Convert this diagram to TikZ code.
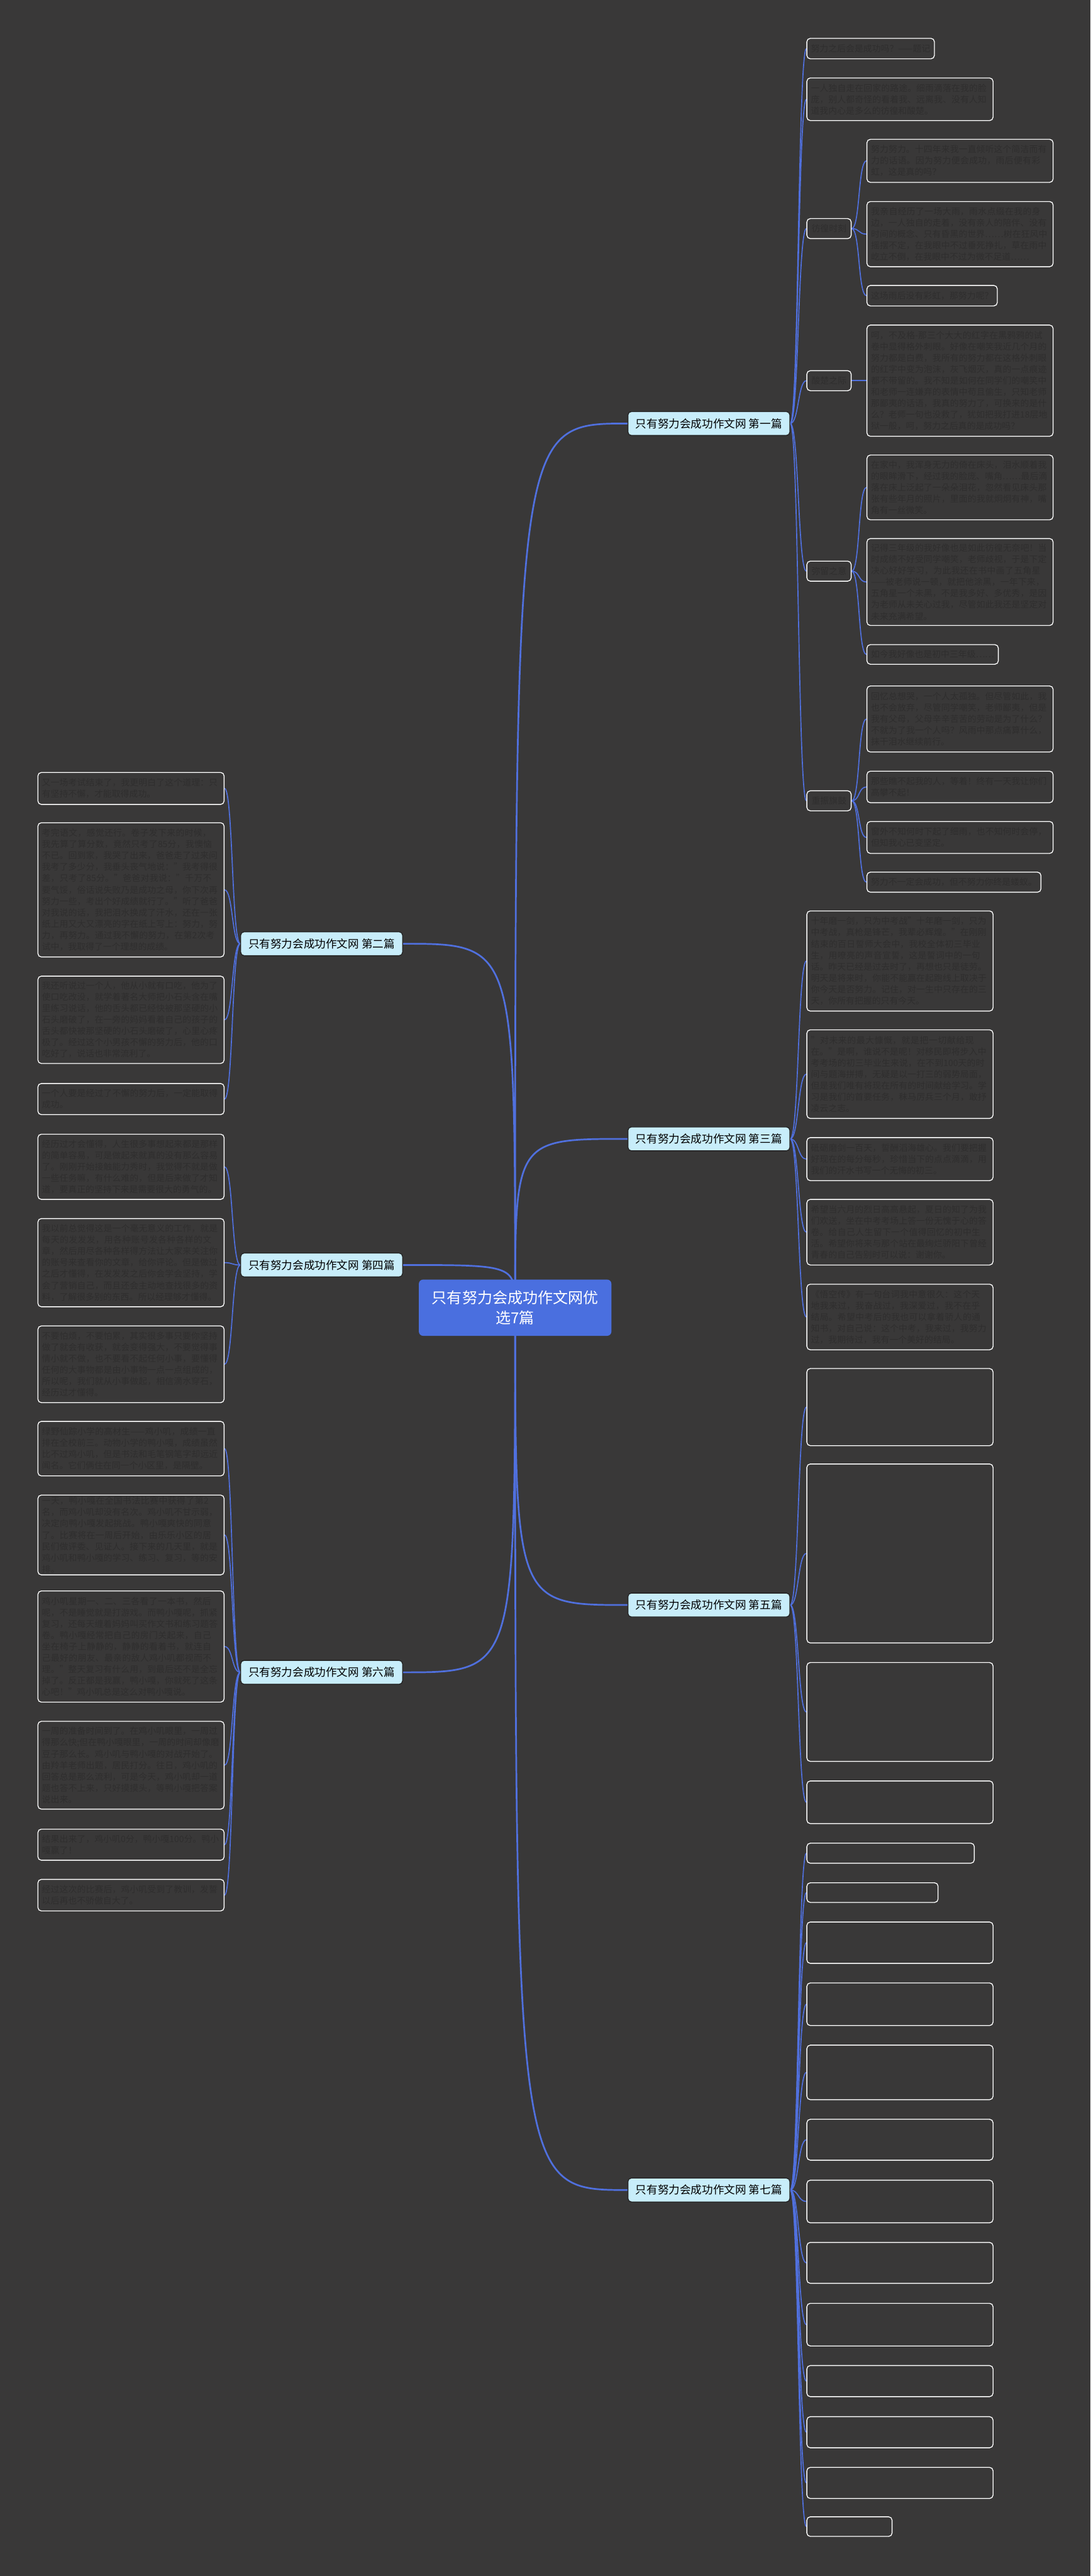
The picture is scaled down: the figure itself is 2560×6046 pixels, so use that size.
\documentclass[tikz,border=0pt]{standalone}
\usepackage{fontspec}
\setmainfont{Noto Sans CJK SC}
\XeTeXlinebreaklocale "zh"
\XeTeXlinebreakskip=0pt plus 1pt
\usepackage{xcolor}
\definecolor{paper}{RGB}{57,56,56}
\definecolor{leafink}{RGB}{47,46,46}
\definecolor{linkblue}{RGB}{80,112,222}
\definecolor{rootblue}{RGB}{74,111,223}
\definecolor{topicfill}{RGB}{200,237,250}
\definecolor{topicline}{RGB}{36,36,36}
\newcommand{\leaffont}{\fontsize{20.5}{26.7}\selectfont}
\newcommand{\topicfont}{\fontsize{26}{30}\selectfont}
\newcommand{\rootfont}{\fontsize{35.5}{46.7}\selectfont}
\pgfdeclarelayer{sheet}
\pgfdeclarelayer{links}
\pgfsetlayers{sheet,links,main}

\begin{document}
\begin{tikzpicture}[x=1pt, y=-1pt,
  box/.style={draw=white, line width=2pt, rounded corners=8pt, fill=paper, text=leafink,
    font=\leaffont, anchor=north west, inner xsep=9.5pt, inner ysep=4pt},
  leaf/.style={box, align=left, text width=418pt},
  subtopic/.style={box, minimum width=104pt, minimum height=47pt},
  topic/.style={draw=topicline, line width=2pt, rounded corners=8pt, fill=topicfill,
    font=\topicfont, anchor=north west, minimum width=380pt, minimum height=56pt, inner xsep=12pt},
  root/.style={fill=rootblue, rounded corners=10pt, text=white, font=\rootfont, align=center,
    anchor=north west, minimum width=452pt, minimum height=132pt},
  trunk/.style={draw=linkblue, line width=4pt},
  twig/.style={draw=linkblue, line width=2.5pt}]
\useasboundingbox (0,0) rectangle (2560,6046);
\begin{pgfonlayer}{sheet}
  \fill[paper] (0,0) rectangle (2560,6046);
\end{pgfonlayer}

\node[root] (root) at (983,3003) {只有努力会成功作文网优\\选7篇};

% 第一篇
\node[topic] (b1) at (1473,965) {只有努力会成功作文网 第一篇};
\node[box, minimum height=48pt] (l1a) at (1893,89) {努力之后会是成功吗？——题记};
\node[leaf, minimum height=100pt] (l1b) at (1893,182) {一人独自走在回家的路途。细雨滴落在我的脸庞，别人都奇怪的看着我、远离我、没有人知道我内心是多么的彷徨和酸楚。};
\node[subtopic] (s11) at (1893,512) {彷徨时刻};
\node[leaf, minimum height=101pt] (c111) at (2034,326) {努力努力。十四年来我一直倾听这个简洁而有力的话语。因为努力便会成功，雨后便有彩虹，这是真的吗？};
\node[leaf, minimum height=153pt] (c112) at (2034,472) {我亲自经历了一场大雨，雨水点缀在我的身边，一人独自的走着，没有亲人的陪伴、没有时间的概念、只有昏黑的世界……树在狂风中摇摆不定，在我眼中不过垂死挣扎，草在雨中屹立不倒，在我眼中不过为微不足道……};
\node[box, minimum height=48pt] (c113) at (2034,669) {这场雨后没有彩虹，那努力呢？};
\node[subtopic] (s12) at (1893,869) {酸楚之际};
\node[leaf, minimum height=261pt] (c121) at (2034,762) {呵，不及格-那三个大大的红字在黑鸦鸦的试卷中显得格外刺眼。好像在嘲笑我近几个月的努力都是白费，我所有的努力都在这格外刺眼的红字中变为泡沫，灰飞烟灭，真的一点痕迹都不带留的。我不知是如何在同学们的嘲笑中和老师一连嫌弃的表情中苟且偷生，只知老师那鄙夷的话语，我真的努力了，可换来的是什么？老师一句也没救了，犹如把我打进18层地狱一般，呵，努力之后真的是成功吗？};
\node[subtopic] (s13) at (1893,1316) {弥留之意};
\node[leaf, minimum height=152pt] (c131) at (2034,1067) {在家中，我浑身无力的倚在床头，泪水顺着我的眼眸滑下，经过我的脸庞、嘴角……最后滴落在床上泛起了一朵朵泪花，忽然看见床头那张有些年月的照片，里面的我就炯炯有神，嘴角有一丝微笑。};
\node[leaf, minimum height=204pt] (c132) at (2034,1263) {记得三年级的我好像也是如此彷徨无奈吧！当时成绩不好受同学嘲笑，老师歧视，于是下定决心好好学习，为此我还在书中画了五角星——被老师说一顿，就把他涂黑，一年下来，五角星一个未黑，不是我多好、多优秀，是因为老师从未关心过我，尽管如此我还是坚定对未来充满希望。};
\node[box, minimum height=46pt] (c133) at (2034,1512) {如今我好像也是初中三年级……};
\node[subtopic] (s14) at (1893,1855) {重振旗鼓};
\node[leaf, minimum height=155pt] (c141) at (2034,1609) {回忆总想哭，一个人太孤独。但尽管如此，我也不会放弃，尽管同学嘲笑，老师鄙夷，但是我有父母，父母辛辛苦苦的劳动是为了什么？不就为了我一个人吗？风雨中那点痛算什么，抹干泪水继续前行。};
\node[leaf, minimum height=74pt] (c142) at (2034,1809) {那些瞧不起我的人，等着！终有一天我让你们高攀不起！};
\node[leaf, minimum height=75pt] (c143) at (2034,1927) {窗外不知何时下起了细雨，也不知何时会停，但知我心已变坚定。};
\node[box, minimum height=47pt] (c144) at (2034,2046) {努力不一定会成功，但不努力你终是蝼蚁。};

% 第二篇
\node[topic] (b2) at (564,2186) {只有努力会成功作文网 第二篇};
\node[leaf, minimum height=75pt] (l21) at (88,1812) {又一场考试结束了，我更明白了这个道理：只有坚持不懈，才能取得成功。};
\node[leaf, minimum height=315pt] (l22) at (88,1930) {考完语文，感觉还行。卷子发下来的时候，我先算了算分数，竟然只考了85分，我懊恼不已。回到家，我哭了出来，爸爸走了过来问我考了多少分，我垂头丧气地说："我考得很差，只考了85分。"爸爸对我说："千万不要气馁，俗话说失败乃是成功之母，你下次再努力一些，考出个好成绩就行了。"听了爸爸对我说的话，我把泪水换成了汗水，还在一张纸上用又大又漂亮的字在纸上写上：努力，努力，再努力。通过我不懈的努力，在第2次考试中，我取得了一个理想的成绩。};
\node[leaf, minimum height=205pt] (l23) at (88,2290) {我还听说过一个人，他从小就有口吃，他为了使口吃改没，就学着著名大师把小石头含在嘴里练习说话，他的舌头都已经快被那坚硬的小石头磨破了，在一旁的妈妈看着自己的孩子的舌头都快被那坚硬的小石头磨破了，心里心疼极了。经过这个小男孩不懈的努力后，他的口吃好了，说话也非常流利了。};
\node[leaf, minimum height=73pt] (l24) at (88,2542) {一个人要是经过了不懈的努力后，一定能取得成功。};

% 第三篇
\node[topic] (b3) at (1473,2644) {只有努力会成功作文网 第三篇};
\node[leaf, minimum height=235pt] (l31) at (1893,2137) {十年磨一剑，只为中考战"十年磨一剑，只为中考战，真枪是锋芒，我辈必辉煌。"在刚刚结束的百日誓师大会中，我校全体初三毕业生，用嘹亮的声音宣誓，这是誓词中的一句话。昨天已经是过去时了，再想也只是徒劳。明天是将来时，你能不能赢在起跑线上取决于你今天是否努力。记住，对一生中只存在的三天，你所有把握的只有今天。};
\node[leaf, minimum height=208pt] (l32) at (1893,2416) {"对未来的最大慷慨，就是把一切献给现在。"是啊，谁说不是呢！对移民即将步入中考考场的初三毕业生来说，在不到100天的时间与题海拼搏，无疑是以一打三的弱势局面，但是我们唯有将现在所有的时间献给学习。学习是我们的首要任务，秣马厉兵三个月，敢抒凌云之志。};
\node[leaf, minimum height=101pt] (l33) at (1893,2669) {砥砺磨剑一百天，誓酬滔海雄心。我们要把握好现在的每分每秒，珍惜当下的点点滴滴，用我们的汗水书写一个无悔的初三。};
\node[leaf, minimum height=154pt] (l34) at (1893,2814) {希望当六月的烈日高高悬起，夏日的知了为我们欢送，坐在中考考场上答一份无愧于心的答卷。给自己人生留下一个值得回忆的初中生活。希望你将来与那个站在最绚烂骄阳下曾经青春的自己告别时可以说：谢谢你。};
\node[leaf, minimum height=154pt] (l35) at (1893,3013) {《悟空传》有一句台词我中意很久：这个天地我来过，我奋战过，我深爱过，我不在乎结局。希望中考后的我也可以拿着骄人的通知书，对自己说：这个中考，我来过，我努力过，我期待过，我有一个美好的结局。};

% 第四篇
\node[topic] (b4) at (564,2940) {只有努力会成功作文网 第四篇};
\node[leaf, minimum height=153pt] (l41) at (88,2661) {经历过才会懂得，人生很多事想起来都是那样的简单容易，可是做起来就真的没有那么容易了。刚刚开始接触能力秀时，我觉得不就是做一些任务嘛，有什么难的，但是后来做了才知道，要真正的坚持下来是需要很大的勇气的。};
\node[leaf, minimum height=207pt] (l42) at (88,2859) {我以前总觉得这是一个毫无意义的工作，就是每天的发发发，用各种账号发各种各样的文章，然后用尽各种各样得方法让大家来关注你的账号来查看你的文章，给你评论。但是做过之后才懂得，在发发发之后你会学会坚持，学会了营销自己，而且还会主动地查找很多的资料，了解很多别的东西。所以经理够才懂得。};
\node[leaf, minimum height=180pt] (l43) at (88,3111) {不要怕烦，不要怕累，其实很多事只要你坚持做了就会有收获，就会变得强大，不要觉得事情小就不做，也不要看不起任何小事，要懂得任何的大事物都是由小事物一点一点组成的，所以呢，我们就从小事做起，相信滴水穿石，经历过才懂得。};

% 第五篇
\node[topic] (b5) at (1473,3738) {只有努力会成功作文网 第五篇};
\node[leaf, minimum height=181pt] (l51) at (1893,3211) {};
\node[leaf, minimum height=420pt] (l52) at (1893,3435) {};
\node[leaf, minimum height=232pt] (l53) at (1893,3901) {};
\node[leaf, minimum height=100pt] (l54) at (1893,4179) {};

% 第六篇
\node[topic] (b6) at (564,3896) {只有努力会成功作文网 第六篇};
\node[leaf, minimum height=128pt] (l61) at (88,3335) {绿野仙踪小学的高材生——鸡小叽，成绩一直排在全校前三。动物小学的鸭小嘎，成绩虽然比不过鸡小叽，但是书法和毛笔钢笔字却远近闻名。它们俩住在同一个小区里，是隔壁。};
\node[leaf, minimum height=181pt] (l62) at (88,3508) {一天，鸭小嘎在全国书法比赛中获得了第2名，而鸡小叽却没有名次。鸡小叽不甘示弱，决定向鸭小嘎发起挑战。鸭小嘎爽快的同意了。比赛将在一周后开始，由乐乐小区的居民们做评委、见证人。接下来的几天里，就是鸡小叽和鸭小嘎的学习、练习、复习，等的安排。};
\node[leaf, minimum height=261pt] (l63) at (88,3733) {鸡小叽星期一、二、三各看了一本书，然后呢，不是睡觉就是打游戏。而鸭小嘎呢，抓紧复习，还每天缠着妈妈叫买作文书和练习题答卷。鸭小嘎经常把自己的房门关起来，自己坐在椅子上静静的，静静的看着书，就连自己最好的朋友、最亲的敌人鸡小叽都视而不理。"整天复习有什么用，到最后还不是全忘掉了。反正都是我赢，鸭小嘎，你就死了这条心吧！"鸡小叽总是这么对鸭小嘎说。};
\node[leaf, minimum height=206pt] (l64) at (88,4039) {一周的准备时间到了。在鸡小叽眼里，一周过得那么快;但在鸭小嘎眼里，一周的时间却像磨豆子那么长。鸡小叽与鸭小嘎的对战开始了。由羚羊老师出题，居民打分。往日，鸡小叽的回答总是那么流利，可是今天，鸡小叽却一道题也答不上来，只好摸摸头，等鸭小嘎把答案说出来。};
\node[leaf, minimum height=73pt] (l65) at (88,4292) {结果出来了，鸡小叽0分，鸭小嘎100分。鸭小嘎赢了！};
\node[leaf, minimum height=74pt] (l66) at (88,4410) {经过这次的比赛后，鸡小叽受到了教训，发誓以后再也不骄傲自大了。};

% 第七篇
\node[topic] (b7) at (1473,5111) {只有努力会成功作文网 第七篇};
\node[box, minimum width=393pt, minimum height=47pt] (l71) at (1893,4325) {};
\node[box, minimum width=308pt, minimum height=46pt] (l72) at (1893,4418) {};
\node[leaf, minimum height=97pt] (l73) at (1893,4510) {};
\node[leaf, minimum height=100pt] (l74) at (1893,4653) {};
\node[leaf, minimum height=128pt] (l75) at (1893,4799) {};
\node[leaf, minimum height=96pt] (l76) at (1893,4973) {};
\node[leaf, minimum height=100pt] (l77) at (1893,5116) {};
\node[leaf, minimum height=96pt] (l78) at (1893,5262) {};
\node[leaf, minimum height=100pt] (l79) at (1893,5405) {};
\node[leaf, minimum height=73pt] (l710) at (1893,5551) {};
\node[leaf, minimum height=73pt] (l711) at (1893,5671) {};
\node[leaf, minimum height=73pt] (l712) at (1893,5790) {};
\node[box, minimum width=200pt, minimum height=46pt] (l713) at (1893,5906) {};

\begin{pgfonlayer}{links}
  \foreach \b in {b1,b3,b5,b7}
    \draw[trunk] (root.center) .. controls (root.center |- \b.west) .. (\b.west);
  \foreach \b in {b2,b4,b6}
    \draw[trunk] (root.center) .. controls (root.center |- \b.east) .. (\b.east);
  \foreach \p/\c in {b1/l1a,b1/l1b,b1/s11,b1/s12,b1/s13,b1/s14,
      s11/c111,s11/c112,s11/c113,s12/c121,s13/c131,s13/c132,s13/c133,
      s14/c141,s14/c142,s14/c143,s14/c144,
      b3/l31,b3/l32,b3/l33,b3/l34,b3/l35,
      b5/l51,b5/l52,b5/l53,b5/l54,
      b7/l71,b7/l72,b7/l73,b7/l74,b7/l75,b7/l76,b7/l77,b7/l78,b7/l79,b7/l710,b7/l711,b7/l712,b7/l713}
    \draw[twig] (\p.east) .. controls +(20,0) and +(-20,0) .. (\c.west);
  \foreach \p/\c in {b2/l21,b2/l22,b2/l23,b2/l24,b4/l41,b4/l42,b4/l43,
      b6/l61,b6/l62,b6/l63,b6/l64,b6/l65,b6/l66}
    \draw[twig] (\p.west) .. controls +(-20,0) and +(20,0) .. (\c.east);
\end{pgfonlayer}
\end{tikzpicture}
\end{document}
